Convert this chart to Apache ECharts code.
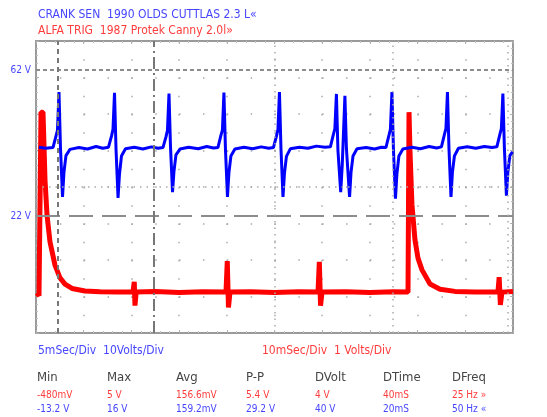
<!DOCTYPE html>
<html>
<head>
<meta charset="utf-8">
<script src="https://cdn.jsdelivr.net/npm/echarts@6/dist/echarts.min.js"></script>
<style>
  html, body { margin: 0; padding: 0; background: #fff; }
  #main { width: 547px; height: 417px; }
</style>
</head>
<body>
<div id="main"></div>
<script>
// channel A (blue): time in ms (5 ms/div), volts (10 V/div)
const blueTrace = [
  [0.3, 40.9], [1.0, 40.6], [1.78, 40.8], [2.10, 44.0], [2.25, 45.5], [2.41, 56.0], [2.57, 40.5], [2.78, 27.3], [2.93, 34.0], [3.14, 38.6], [3.56, 40.3],
  [4.5, 40.8], [5.4, 40.4], [6.3, 41.1], [7.0, 40.6],
  [7.60, 40.9], [7.92, 44.0], [8.07, 45.8], [8.23, 55.8], [8.39, 40.2], [8.60, 27.0], [8.75, 33.5], [8.96, 38.5], [9.38, 40.5],
  [10.3, 40.9], [11.2, 40.4], [12.1, 41.0], [12.8, 40.6],
  [13.31, 40.8], [13.63, 43.8], [13.78, 45.5], [13.94, 55.6], [14.10, 41.0], [14.31, 28.6], [14.46, 34.2], [14.67, 38.8], [15.09, 40.4],
  [16.0, 40.9], [17.0, 40.5], [17.9, 41.1], [18.6, 40.7],
  [19.07, 40.8], [19.39, 44.2], [19.54, 45.6], [19.70, 55.9], [19.86, 40.3], [20.07, 27.3], [20.22, 33.8], [20.43, 38.5], [20.85, 40.4],
  [21.8, 40.9], [22.7, 40.5], [23.6, 41.0], [24.4, 40.6],
  [24.89, 40.8], [25.21, 44.0], [25.36, 45.7], [25.52, 56.0], [25.68, 40.4], [25.89, 27.3], [26.04, 33.6], [26.25, 38.4], [26.67, 40.5],
  [27.6, 40.9], [28.5, 40.6], [29.4, 41.2], [30.3, 40.9],
  [30.86, 41.0], [31.18, 44.5], [31.33, 46.0], [31.49, 55.5], [31.65, 40.0], [31.94, 28.6], [32.10, 36.0], [32.22, 44.0], [32.38, 55.0], [32.54, 40.5], [32.87, 27.3], [33.02, 34.0], [33.23, 38.5], [33.65, 40.5],
  [34.6, 40.8], [35.5, 40.4], [36.2, 40.9],
  [36.68, 40.8], [37.00, 44.2], [37.15, 45.8], [37.31, 56.0], [37.47, 40.2], [37.68, 26.8], [37.83, 33.5], [38.04, 38.5], [38.46, 40.4],
  [39.4, 40.9], [40.3, 40.5], [41.2, 41.1], [42.0, 40.7],
  [42.50, 41.0], [42.82, 44.5], [42.97, 46.0], [43.13, 56.0], [43.29, 40.4], [43.50, 27.3], [43.65, 34.0], [43.86, 38.5], [44.28, 40.6],
  [45.2, 41.0], [46.1, 40.6], [47.0, 41.1], [47.8, 40.8],
  [48.31, 41.0], [48.63, 44.5], [48.78, 46.0], [48.94, 55.6], [49.10, 40.5], [49.31, 27.6], [49.46, 34.0], [49.67, 38.6], [49.95, 39.6]
]

// channel B (red): time in ms (10 ms/div), volts (1 V/div)
const redTrace = [
  [0.21, 0.10], [0.63, 0.02], [0.94, 0.05], [1.05, 5.05], [1.47, 5.05], [1.89, 3.19], [2.31, 2.23], [2.93, 1.50], [3.98, 0.86],
  [5.03, 0.51], [6.08, 0.34], [7.55, 0.22], [10.27, 0.15], [13.42, 0.13], [17.0, 0.12],
  [20.34, 0.13], [20.60, 0.40], [20.75, -0.25], [21.0, 0.12], [25, 0.14], [30, 0.11], [35, 0.13],
  [39.83, 0.12], [40.10, 0.97], [40.35, -0.30], [40.67, 0.12], [45, 0.13], [50, 0.11], [55, 0.13],
  [59.12, 0.12], [59.40, 0.95], [59.65, -0.25], [59.96, 0.12], [65, 0.13], [70, 0.11], [75, 0.13],
  [77.99, 0.12], [78.20, 5.05], [78.40, 4.0], [78.82, 2.51], [79.45, 1.55], [80.08, 1.05], [80.92, 0.73],
  [82.60, 0.34], [84.70, 0.20], [87.84, 0.14], [92, 0.12],
  [96.85, 0.13], [97.10, 0.53], [97.35, -0.23], [97.69, 0.12], [100, 0.14]
]

const blueLevels = [62, 22]      // voltage cursors, channel A
const redLevels = [6.2, 2.2]     // same cursors read on channel B
const timeCursors = [2.3, 12.3]  // ms on channel A time base
const dotCursors = [37.4, 49.5]

const measureHeads = ['Min', 'Max', 'Avg', 'P-P', 'DVolt', 'DTime', 'DFreq']
const redMeasures = ['-480mV', '5 V', '156.6mV', '5.4 V', '4 V', '40mS', '25 Hz »']
const blueMeasures = ['-13.2 V', '16 V', '159.2mV', '29.2 V', '40 V', '20mS', '50 Hz «']

const FONT = '"Liberation Sans Narrow", "DejaVu Sans Condensed", "Arial Narrow", sans-serif'
const BLUE_TXT = '#4646ff'
const RED_TXT = '#ff3c3c'
const GRAY = '#8c8c8c'

const myChart = echarts.init(document.getElementById('main'))

const frameAxis = (extra) => Object.assign({
  type: 'value',
  axisLine: { show: true, onZero: false, lineStyle: { color: '#9a9a9a', width: 2 } },
  axisTick: { show: true, inside: true, length: 3, lineStyle: { color: '#b0b0b0' } },
  minorTick: { show: true, splitNumber: 5, length: 2, lineStyle: { color: '#c0c0c0' } },
  axisLabel: { show: false }
}, extra)

const colX = [37, 107, 176, 246, 315, 383, 452]
const graphics = []
measureHeads.forEach((h, i) => {
  graphics.push({ type: 'text', left: colX[i], top: 371, style: { text: h, fill: '#444', font: '13px ' + FONT } })
  graphics.push({ type: 'text', left: colX[i], top: 390, style: { text: redMeasures[i], fill: RED_TXT, font: '10px ' + FONT } })
  graphics.push({ type: 'text', left: colX[i], top: 404, style: { text: blueMeasures[i], fill: BLUE_TXT, font: '10px ' + FONT } })
})
graphics.push(
  { type: 'text', left: 38, top: 9, style: { text: 'CRANK SEN  1990 OLDS CUTTLAS 2.3 L«', fill: BLUE_TXT, font: '12px ' + FONT } },
  { type: 'text', left: 38, top: 25, style: { text: 'ALFA TRIG  1987 Protek Canny 2.0l»', fill: RED_TXT, font: '12px ' + FONT } },
  { type: 'text', left: 38, top: 345, style: { text: '5mSec/Div  10Volts/Div', fill: BLUE_TXT, font: '12px ' + FONT } },
  { type: 'text', left: 262, top: 345, style: { text: '10mSec/Div  1 Volts/Div', fill: RED_TXT, font: '12px ' + FONT } }
)

const option = {
  animation: false,
  backgroundColor: '#fff',
  grid: { left: 36, right: 34, top: 41, bottom: 84, show: false },
  xAxis: [
    frameAxis({ min: 0, max: 50, interval: 5, position: 'bottom',
      splitLine: { show: true, lineStyle: { color: '#aaa', width: 1.5, type: [1.5, 16.75], dashOffset: 0 } } }),
    frameAxis({ min: 0, max: 100, interval: 10, position: 'top', splitLine: { show: false } })
  ],
  yAxis: [
    frameAxis({ min: -10, max: 70, interval: 10, position: 'left',
      splitLine: { show: true, lineStyle: { color: '#aaa', width: 1.5, type: [1.5, 22.35] } } }),
    frameAxis({ min: -1, max: 7, interval: 1, position: 'right', splitLine: { show: false } })
  ],
  series: [
    {
      type: 'line',
      xAxisIndex: 0,
      yAxisIndex: 0,
      data: blueTrace,
      showSymbol: false,
      z: 4,
      lineStyle: { color: '#0000ff', width: 3 },
      markLine: {
        silent: true,
        symbol: ['none', 'none'],
        label: { show: false },
        data: [
          { yAxis: blueLevels[0], lineStyle: { color: GRAY, width: 2, type: [4, 3] },
            label: { show: true, position: 'start', formatter: '{c} V', color: BLUE_TXT, fontSize: 10, fontFamily: FONT, padding: [0, 0, 12, 0] } },
          { yAxis: blueLevels[1], lineStyle: { color: GRAY, width: 2, type: [24, 9] },
            label: { show: true, position: 'start', formatter: '{c} V', color: BLUE_TXT, fontSize: 10, fontFamily: FONT, padding: [0, 0, 12, 0] } },
          { xAxis: timeCursors[0], lineStyle: { color: '#777', width: 2, type: [5, 4] } },
          { xAxis: timeCursors[1], lineStyle: { color: '#777', width: 2, type: [12, 4, 2, 4] } },
          { xAxis: 25, lineStyle: { color: '#aaa', width: 1.5, type: [1.5, 5] } },
          { yAxis: 30, lineStyle: { color: '#aaa', width: 1.5, type: [1.5, 5] } },
          { xAxis: dotCursors[0], lineStyle: { color: '#aaa', width: 1.5, type: [1.5, 5] } },
          { xAxis: dotCursors[1], lineStyle: { color: '#aaa', width: 1.5, type: [1.5, 5] } }
        ]
      }
    },
    {
      type: 'line',
      xAxisIndex: 1,
      yAxisIndex: 1,
      data: redTrace,
      showSymbol: false,
      z: 3,
      lineStyle: { color: '#ff0000', width: 5 },
      markLine: {
        silent: true,
        symbol: ['none', 'none'],
        lineStyle: { opacity: 0 },
        label: { show: true, position: 'end', formatter: '{c} V', color: RED_TXT, fontSize: 10, fontFamily: FONT, padding: [0, 0, 12, 0] },
        data: redLevels.map(v => ({ yAxis: v }))
      }
    }
  ],
  graphic: graphics
}

myChart.setOption(option)
</script>
</body>
</html>
